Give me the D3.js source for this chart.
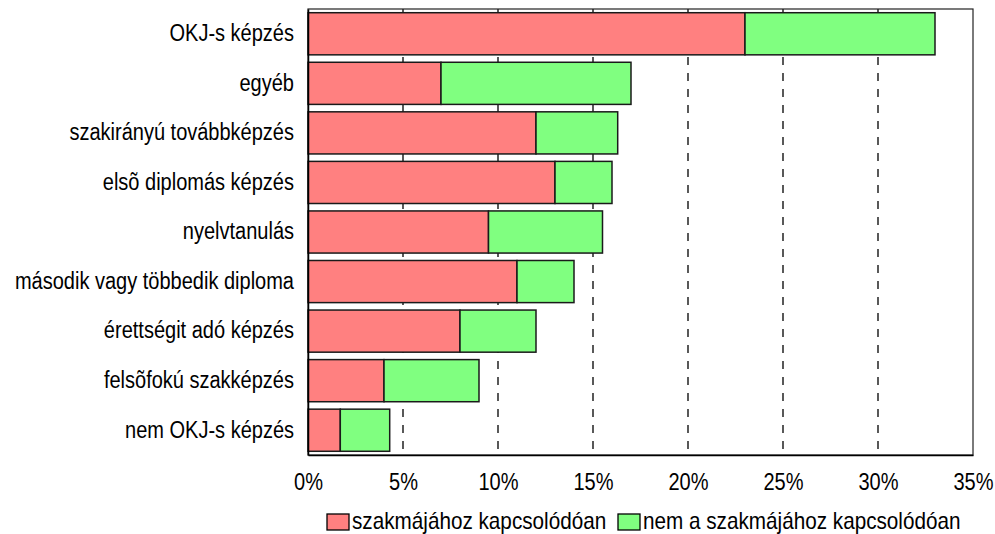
<!DOCTYPE html>
<html><head><meta charset="utf-8">
<script src="https://cdn.jsdelivr.net/npm/d3@7"></script>
<style>body{margin:0;background:#fff}svg{display:block}text{font-family:"Liberation Sans",Arial,sans-serif;fill:#000}</style>
</head><body><svg id="c" width="995" height="534"></svg>
<script>
const categories = ["OKJ-s képzés","egyéb","szakirányú továbbképzés","elsõ diplomás képzés","nyelvtanulás","második vagy többedik diploma","érettségit adó képzés","felsõfokú szakképzés","nem OKJ-s képzés"];
const related = [23.0, 7.0, 12.0, 13.0, 9.5, 11.0, 8.0, 4.0, 1.7];
const unrelated = [10.0, 10.0, 4.3, 3.0, 6.0, 3.0, 4.0, 5.0, 2.6];
const seriesNames = ["szakmájához kapcsolódóan","nem a szakmájához kapcsolódóan"];
const tickValues = [0,5,10,15,20,25,30,35];
const colors = ["#FF8080","#80FF80"];

const svg = d3.select("#c");
const m = {l:308, r:973, t:9, b:455};
const x = d3.scaleLinear().domain([0,35]).range([m.l,m.r]);
const y = d3.scaleBand().domain(categories).range([m.t,m.b]).paddingInner(0.15).paddingOuter(0.075);
const FS = 23, SX = 0.87;

// gridlines
svg.append("g").selectAll("line").data(tickValues.filter(v=>v>0&&v<35)).join("line")
  .attr("x1",d=>x(d)).attr("x2",d=>x(d)).attr("y1",m.t).attr("y2",m.b)
  .attr("stroke","#000").attr("stroke-width",1.3).attr("stroke-dasharray","8,8");

// frame
svg.append("rect").attr("x",m.l).attr("y",m.t).attr("width",m.r-m.l).attr("height",m.b-m.t)
  .attr("fill","none").attr("stroke","#222").attr("stroke-width",1.2);

const data = categories.map((c,i)=>({c, a:related[i], b:unrelated[i]}));
const g = svg.append("g");
g.selectAll("rect.a").data(data).join("rect").attr("class","a")
  .attr("x",x(0)).attr("y",d=>y(d.c)).attr("width",d=>x(d.a)-x(0)).attr("height",y.bandwidth())
  .attr("fill",colors[0]).attr("stroke","#1a1a1a").attr("stroke-width",1.5);
g.selectAll("rect.b").data(data).join("rect").attr("class","b")
  .attr("x",d=>x(d.a)).attr("y",d=>y(d.c)).attr("width",d=>x(d.a+d.b)-x(d.a)).attr("height",y.bandwidth())
  .attr("fill",colors[1]).attr("stroke","#1a1a1a").attr("stroke-width",1.5);

// axes
const xa = svg.append("g").attr("transform",`translate(0,${m.b})`)
  .call(d3.axisBottom(x).tickValues(tickValues).tickFormat(d=>d+"%").tickSize(0).tickPadding(19));
xa.select(".domain").attr("stroke","#000").attr("stroke-width",1.5);
xa.selectAll("text").attr("font-size",FS).style("font-family","'Liberation Sans',Arial,sans-serif")
  .attr("transform",`scale(${SX},1)`);

const ya = svg.append("g").attr("transform",`translate(${m.l},0)`)
  .call(d3.axisLeft(y).tickSize(0).tickPadding(13));
ya.select(".domain").attr("stroke","#000").attr("stroke-width",1.5);
ya.selectAll("text").attr("font-size",FS).style("font-family","'Liberation Sans',Arial,sans-serif")
  .attr("x",-14/SX).attr("transform",`scale(${SX},1)`);

// legend
const leg = svg.append("g");
const lx = [327, 618];
const LS = 0.9;
seriesNames.forEach((n,i)=>{
  leg.append("rect").attr("x",lx[i]).attr("y",514).attr("width",22).attr("height",16)
    .attr("fill",colors[i]).attr("stroke","#000").attr("stroke-width",1.3);
  leg.append("text").attr("x",(lx[i]+25)/LS).attr("y",529).attr("font-size",FS)
    .attr("transform",`scale(${LS},1)`).text(n);
});
</script></body></html>
